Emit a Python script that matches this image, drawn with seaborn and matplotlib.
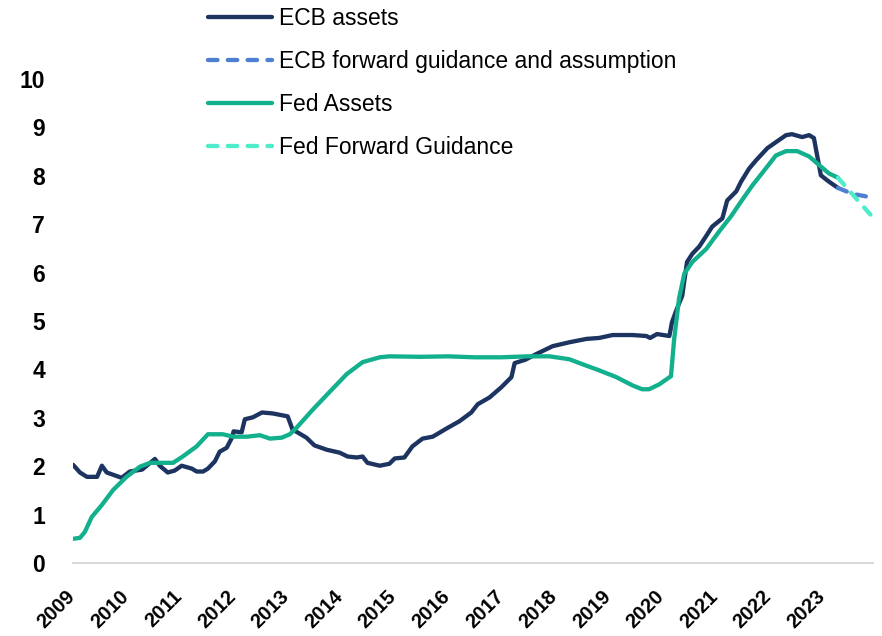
import matplotlib
matplotlib.use("Agg")
import matplotlib.pyplot as plt
import matplotlib.transforms as mtransforms
import seaborn as sns
import pandas as pd

# ---- data (decimal years, % / ratio values) ----
ecb_t = [2009.00, 2009.13, 2009.26, 2009.45, 2009.54, 2009.63, 2009.91, 2010.06, 2010.29,
         2010.53, 2010.62, 2010.77, 2010.90, 2011.03, 2011.22, 2011.31, 2011.43, 2011.52,
         2011.65, 2011.74, 2011.87, 2011.97, 2012.00, 2012.15, 2012.21, 2012.36, 2012.53,
         2012.73, 2013.01, 2013.10, 2013.36, 2013.51, 2013.74, 2013.98, 2014.13, 2014.30,
         2014.41, 2014.50, 2014.73, 2014.91, 2015.01, 2015.19, 2015.34, 2015.53, 2015.72,
         2015.98, 2016.22, 2016.44, 2016.56, 2016.78, 2017.00, 2017.19, 2017.25, 2017.45,
         2017.66, 2017.96, 2018.27, 2018.59, 2018.83, 2019.08, 2019.45, 2019.71, 2019.78,
         2019.91, 2020.14, 2020.19, 2020.27, 2020.38, 2020.47, 2020.57, 2020.70, 2020.83,
         2020.94, 2021.13, 2021.22, 2021.39, 2021.48, 2021.63, 2021.76, 2021.97, 2022.15,
         2022.32, 2022.43, 2022.62, 2022.75, 2022.84, 2022.97, 2023.12, 2023.29]
ecb_v = [2.03, 1.87, 1.78, 1.78, 2.01, 1.87, 1.76, 1.89, 1.93,
         2.15, 2.01, 1.87, 1.91, 2.01, 1.95, 1.89, 1.89, 1.95,
         2.10, 2.30, 2.38, 2.59, 2.72, 2.70, 2.97, 3.01, 3.11,
         3.09, 3.03, 2.76, 2.59, 2.43, 2.34, 2.28, 2.20, 2.18,
         2.20, 2.07, 2.01, 2.05, 2.16, 2.18, 2.41, 2.57, 2.61,
         2.78, 2.93, 3.11, 3.28, 3.42, 3.63, 3.84, 4.13, 4.20,
         4.32, 4.48, 4.56, 4.63, 4.65, 4.71, 4.71, 4.69, 4.65,
         4.73, 4.69, 4.98, 5.22, 5.52, 6.22, 6.39, 6.54, 6.76,
         6.95, 7.12, 7.49, 7.68, 7.88, 8.15, 8.32, 8.57, 8.71,
         8.84, 8.86, 8.80, 8.84, 8.78, 8.01, 7.88, 7.75]

ecb_fwd_t = [2023.29, 2023.55, 2023.93]
ecb_fwd_v = [7.75, 7.63, 7.55]

fed_t = [2009.00, 2009.13, 2009.22, 2009.35, 2009.54, 2009.75, 2010.00, 2010.25, 2010.44,
         2010.87, 2011.05, 2011.31, 2011.52, 2011.80, 2011.99, 2012.25, 2012.49, 2012.68,
         2012.90, 2013.05, 2013.18, 2013.48, 2013.79, 2014.11, 2014.41, 2014.73, 2014.91,
         2015.50, 2016.00, 2016.50, 2017.00, 2017.50, 2017.90, 2018.27, 2018.51, 2018.83,
         2019.15, 2019.45, 2019.63, 2019.76, 2019.95, 2020.17, 2020.23, 2020.32, 2020.42,
         2020.57, 2020.83, 2021.07, 2021.29, 2021.48, 2021.69, 2021.94, 2022.13, 2022.32,
         2022.53, 2022.75, 2022.94, 2023.12, 2023.29]
fed_v = [0.50, 0.52, 0.64, 0.95, 1.20, 1.51, 1.78, 1.99, 2.07,
         2.07, 2.20, 2.41, 2.66, 2.66, 2.61, 2.61, 2.64, 2.57,
         2.59, 2.66, 2.80, 3.17, 3.53, 3.90, 4.15, 4.25, 4.27,
         4.26, 4.27, 4.25, 4.25, 4.27, 4.27, 4.21, 4.11, 3.98,
         3.84, 3.67, 3.59, 3.59, 3.69, 3.86, 4.63, 5.46, 5.98,
         6.22, 6.49, 6.85, 7.16, 7.47, 7.80, 8.15, 8.42, 8.51,
         8.51, 8.40, 8.22, 8.05, 7.96]

fed_fwd_t = [2023.29, 2023.63, 2024.00]
fed_fwd_v = [7.96, 7.53, 7.07]

year_ticks = list(range(2009, 2024))
year_labels = [str(y) for y in year_ticks]
y_ticks = list(range(0, 11))

series = [
    ("ECB assets", ecb_t, ecb_v, "#1d3461", False),
    ("ECB forward guidance and assumption", ecb_fwd_t, ecb_fwd_v, "#4f7fd1", True),
    ("Fed Assets", fed_t, fed_v, "#12b08c", False),
    ("Fed Forward Guidance", fed_fwd_t, fed_fwd_v, "#4eecca", True),
]

# ---- style ----
sns.set_style("white")
plt.rcParams['font.family'] = ['Liberation Sans Narrow', 'Liberation Sans', 'DejaVu Sans']
plt.rcParams['text.color'] = 'black'
plt.rcParams['xtick.color'] = 'black'
plt.rcParams['ytick.color'] = 'black'

fig = plt.figure(figsize=(8.82, 6.36), dpi=100)
ax = fig.add_axes([73 / 882, 1 - 563 / 636, (876 - 73) / 882, (563 - 79) / 636])

handles = []
for name, t, v, col, dashed in series:
    df = pd.DataFrame({"t": t, "v": v})
    sns.lineplot(data=df, x="t", y="v", ax=ax, color=col, linewidth=3.1,
                 label=name, legend=False, sort=False)
    ln = ax.lines[-1]
    if dashed:
        ln.set_dashes([2.2, 2.4])
        ln.set_dash_capstyle('round')
    else:
        ln.set_solid_capstyle('round')
        ln.set_solid_joinstyle('round')
    handles.append(ln)

ax.set_xlim(2009, 2024)
ax.set_ylim(0, 10)
ax.set_xlabel("")
ax.set_ylabel("")

for s in ["top", "right", "left"]:
    ax.spines[s].set_visible(False)
ax.spines["bottom"].set_color("#d9d9d9")
ax.spines["bottom"].set_linewidth(1.5)
ax.spines["bottom"].set_bounds(2009, 2023.95)

ax.set_yticks(y_ticks)
ax.set_yticklabels([str(y) for y in y_ticks], fontsize=16.5, fontweight="bold", color="black")
ax.tick_params(axis="y", length=0, pad=20)

ax.set_xticks(year_ticks)
ax.set_xticklabels(year_labels, fontsize=14.5, fontweight="bold", rotation=45, ha="right",
                   color="black")
ax.tick_params(axis="x", length=0, pad=17)
offset = mtransforms.ScaledTranslation(6 / 100, 0, fig.dpi_scale_trans)
for lab in ax.get_xticklabels():
    lab.set_transform(lab.get_transform() + offset)

leg = fig.legend(handles=handles, labels=[s[0] for s in series],
                 loc="upper left", bbox_to_anchor=(208 / 882, 1 - 7 / 636),
                 frameon=False, fontsize=16.5, handlelength=2.8, handletextpad=0.3,
                 labelspacing=0.88, borderpad=0, borderaxespad=0, labelcolor="black")

fig.savefig("out.png", dpi=100)
